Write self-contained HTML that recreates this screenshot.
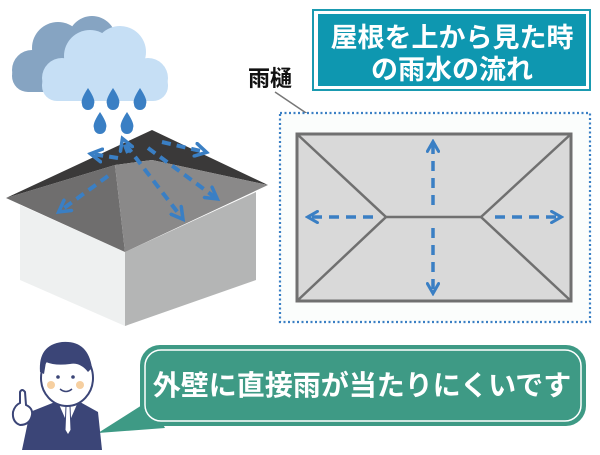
<!DOCTYPE html>
<html><head><meta charset="utf-8"><style>
body{margin:0;width:600px;height:450px;background:#fff;overflow:hidden;font-family:"Liberation Sans","Noto Sans CJK JP",sans-serif}
</style></head><body>
<svg width="600" height="450" viewBox="0 0 600 450" xmlns="http://www.w3.org/2000/svg">
<defs>
<marker id="ah" viewBox="0 0 10 10" refX="7" refY="5" markerWidth="4" markerHeight="4" orient="auto"><path d="M1 1 L8 5 L1 9" fill="none" stroke="#3a7fc4" stroke-width="2.2" stroke-linecap="round"/></marker>
</defs>
<g fill="#86a4c2">
<circle cx="32" cy="70" r="20"/><circle cx="58" cy="48" r="26"/><circle cx="92" cy="40" r="24"/><rect x="12" y="60" width="100" height="32" rx="16"/>
</g>
<g fill="#c6dff5">
<circle cx="62" cy="78" r="20"/><circle cx="90" cy="56" r="26"/><circle cx="120" cy="52" r="26"/><circle cx="148" cy="78" r="20"/><rect x="42" y="70" width="126" height="31" rx="15"/>
</g>
<g fill="#3a7fc4">
<path d="M88 88 Q80 100 82 104 A6 6 0 0 0 94 104 Q96 100 88 88Z"/>
<path d="M113 88 Q105 100 107 104 A6 6 0 0 0 119 104 Q121 100 113 88Z"/>
<path d="M140 88 Q132 100 134 104 A6 6 0 0 0 146 104 Q148 100 140 88Z"/>
<path d="M100 112 Q92 124 94 128 A6 6 0 0 0 106 128 Q108 124 100 112Z"/>
<path d="M127 112 Q119 124 121 128 A6 6 0 0 0 133 128 Q135 124 127 112Z"/>
</g>
<polygon points="20,205 125,252 125,326 20,280" fill="#eef0f0"/>
<polygon points="125,252 256,192 256,280 125,326" fill="#b4b5b5"/>
<polygon points="6,198 152,130 268,185 152,160 115,165" fill="#3a3939"/>
<polygon points="6,198 115,165 125,252" fill="#6f6e6e"/>
<polygon points="115,165 152,160 268,185 125,252" fill="#8a8989"/>
<g stroke="#3a7fc4" stroke-width="4" fill="none" stroke-dasharray="9,6" marker-end="url(#ah)">
<line x1="118" y1="158" x2="92" y2="154"/>
<line x1="128" y1="153" x2="123" y2="140"/>
<line x1="162" y1="142" x2="205" y2="152"/>
<line x1="108" y1="176" x2="60" y2="211"/>
<line x1="126" y1="145" x2="182" y2="218"/>
<line x1="148" y1="148" x2="216" y2="198"/>
</g>
<text x="248" y="86" font-size="22" font-weight="bold" fill="#111">雨樋</text>
<line x1="275" y1="92" x2="315" y2="119" stroke="#777" stroke-width="1.5"/>
<circle cx="315" cy="119" r="3.5" fill="#777"/>
<rect x="313" y="10" width="277" height="80" fill="#fff" stroke="#1a9ab0" stroke-width="2"/>
<rect x="318" y="14" width="268" height="72" fill="#0e97b0"/>
<text x="452" y="47" font-size="27" font-weight="bold" fill="#fff" text-anchor="middle">屋根を上から見た時</text>
<text x="452" y="79" font-size="27" font-weight="bold" fill="#fff" text-anchor="middle">の雨水の流れ</text>
<rect x="280" y="113" width="310" height="209" fill="#fbfdfc" stroke="#3a7fc4" stroke-width="2.2" stroke-dasharray="2,2.5"/>
<rect x="297" y="134" width="274" height="167" fill="#d9d9d9" stroke="#707070" stroke-width="3"/>
<g stroke="#707070" stroke-width="2.5">
<line x1="297" y1="134" x2="386" y2="217"/><line x1="297" y1="301" x2="386" y2="217"/>
<line x1="571" y1="134" x2="481" y2="217"/><line x1="571" y1="301" x2="481" y2="217"/>
<line x1="386" y1="217" x2="481" y2="217"/>
</g>
<g stroke="#3a7fc4" stroke-width="3.5" fill="none" stroke-dasharray="10,7" marker-end="url(#ah)">
<line x1="373" y1="217" x2="309" y2="217"/>
<line x1="495" y1="217" x2="560" y2="217"/>
<line x1="433" y1="205" x2="433" y2="143"/>
<line x1="433" y1="228" x2="433" y2="292"/>
</g>
<polygon points="150,400 98,433 165,428" fill="#3e9a85"/>
<rect x="140" y="345" width="446" height="81" rx="20" fill="#3e9a85"/>
<rect x="145" y="350" width="436" height="71" rx="16" fill="none" stroke="#fff" stroke-width="1.5"/>
<text x="362" y="395" font-size="28" font-weight="bold" fill="#fff" text-anchor="middle">外壁に直接雨が当たりにくいです</text>
<path d="M22 450 L30 412 L55 402 L80 402 L98 412 L102 450Z" fill="#3b4577"/>
<path d="M58 402 L68 425 L78 402Z" fill="#fff"/>
<path d="M66 406 L70 406 L71 430 L68 435 L65 430Z" fill="#fff" stroke="#3b4577" stroke-width="1"/>
<ellipse cx="67" cy="378" rx="26" ry="28" fill="#fff" stroke="#3b4577" stroke-width="2"/>
<path d="M40 372 Q38 345 62 342 Q88 340 92 368 L88 372 Q80 362 70 364 Q55 366 46 362 L44 374Z" fill="#3b4577"/>
<circle cx="51" cy="385" r="4" fill="#f6cfa0"/><circle cx="80" cy="385" r="4" fill="#f6cfa0"/>
<circle cx="58" cy="377" r="1.8" fill="#3b4577"/><circle cx="73" cy="377" r="1.8" fill="#3b4577"/>
<path d="M60 389 Q66 394 72 389" fill="none" stroke="#3b4577" stroke-width="1.5"/>
<path d="M20 392 Q22 388 25 392 L26 405 Q33 408 32 415 Q30 425 20 425 Q12 422 13 412 Q15 405 20 403Z" fill="#fff" stroke="#3b4577" stroke-width="2"/>
</svg>
</body></html>
